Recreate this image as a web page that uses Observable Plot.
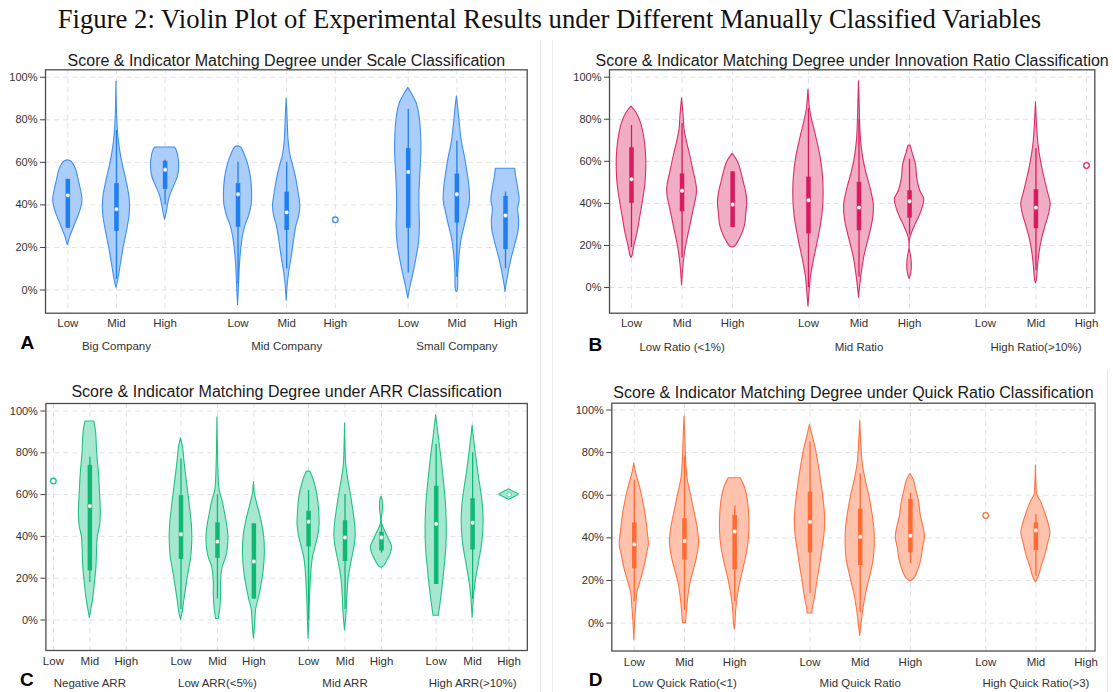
<!DOCTYPE html>
<html><head><meta charset="utf-8">
<script src="https://cdn.jsdelivr.net/npm/d3@7"></script>
<script src="https://cdn.jsdelivr.net/npm/@observablehq/plot@0.6"></script>
<style>
body{margin:0;background:#fff;}
#root{position:relative;width:1113px;height:692px;overflow:hidden;background:#fff;}
#root svg{position:absolute;overflow:visible;}
.title{position:absolute;left:-7px;top:6px;width:1113px;text-align:center;font-family:"Liberation Serif","Times New Roman",serif;font-size:26.7px;line-height:26px;color:#111;white-space:nowrap;}
.sep{position:absolute;background:#e3e3e3;width:1px;}
</style></head><body>
<div id="root">
<div class="title">Figure 2: Violin Plot of Experimental Results under Different Manually Classified Variables</div>
<div class="sep" style="left:540px;top:40px;height:652px"></div>
<div class="sep" style="left:552px;top:40px;height:652px;background:#ececec"></div>
<div class="sep" style="left:1107px;top:370px;height:322px;background:#e6e6e6"></div>
</div>
<script>
// ---------- data (values in %, density half-widths in slot units) ----------
const LEVELS = ["Low", "Mid", "High"];
const Y_TICKS = [0, 20, 40, 60, 80, 100];

const groupsA = ["Big Company", "Mid Company", "Small Company"];
const groupsB = ["Low Ratio (<1%)", "Mid Ratio", "High Ratio(>10%)"];
const groupsC = ["Negative ARR", "Low ARR(<5%)", "Mid ARR", "High ARR(>10%)"];
const groupsD = ["Low Quick Ratio(<1)", "Mid Quick Ratio", "High Quick Ratio(>3)"];

const violinsA = [
  {g:0,l:0,med:44.5,q1:29,q3:52,lo:29,hi:52,d:[[21,0],[25,.05],[28,.1],[32,.17],[36,.24],[40,.29],[43,.3],[47,.27],[52,.22],[56,.18],[59,.12],[60.5,.06],[61,0]]},
  {g:0,l:1,med:38,q1:27.5,q3:50,lo:5,hi:75,d:[[1,0],[5,.04],[12,.09],[20,.15],[28,.22],[35,.27],[40,.28],[45,.26],[52,.2],[60,.12],[68,.06],[75,.03],[85,.01],[98,0]]},
  {g:0,l:2,med:56.5,q1:47.3,q3:60.5,lo:40,hi:61,d:[[33,0],[36,.03],[40,.06],[44,.1],[48,.17],[53,.26],[58,.29],[63,.27],[66,.23],[67,.2]]},
  {g:1,l:0,med:45,q1:29.5,q3:50,lo:3,hi:60,d:[[-7,0],[0,.015],[5,.025],[12,.04],[20,.07],[25,.1],[30,.15],[35,.23],[40,.28],[45,.29],[52,.27],[58,.22],[64,.13],[67,.06],[67.5,0]]},
  {g:1,l:1,med:36.5,q1:28,q3:46,lo:10,hi:60,d:[[-5,0],[2,.02],[8,.05],[15,.1],[23,.15],[30,.2],[35,.26],[40,.28],[45,.25],[52,.2],[58,.14],[63,.08],[70,.04],[80,.02],[90,0]]},
  {g:1,l:2,med:33},
  {g:2,l:0,med:55.5,q1:29,q3:66.5,lo:8,hi:85,d:[[-4,0],[2,.05],[8,.11],[15,.17],[22,.22],[30,.24],[38,.23],[45,.23],[55,.25],[65,.27],[75,.26],[82,.23],[88,.17],[92,.08],[95,0]]},
  {g:2,l:1,med:45,q1:31.5,q3:54.5,lo:6,hi:70,d:[[-1,0],[0,.02],[8,.03],[15,.05],[23,.09],[30,.16],[36,.22],[42,.27],[48,.26],[55,.22],[62,.17],[70,.1],[78,.06],[85,.03],[91,0]]},
  {g:2,l:2,med:35,q1:19,q3:44,lo:10,hi:46,d:[[-1,0],[1,.01],[5,.04],[10,.08],[16,.14],[22,.21],[28,.27],[33,.28],[38,.26],[42,.29],[48,.26],[53,.22],[57,.2]]}
];

const violinsB = [
  {g:0,l:0,med:51.5,q1:40,q3:66.5,lo:19,hi:77,d:[[14,0],[15,.02],[20,.06],[26,.12],[33,.17],[40,.22],[48,.27],[55,.29],[62,.29],[70,.26],[78,.19],[83,.1],[86,0]]},
  {g:0,l:1,med:46,q1:36,q3:54,lo:14,hi:78,d:[[1,0],[8,.02],[15,.05],[22,.1],[30,.17],[38,.24],[44,.29],[48,.29],[55,.23],[63,.16],[70,.09],[75,.05],[82,.03],[90,0]]},
  {g:0,l:2,med:39.5,q1:28.5,q3:55,lo:28.5,hi:55,d:[[19,0],[19.5,.05],[22,.12],[26,.2],[30,.25],[35,.27],[40,.29],[45,.27],[50,.22],[55,.17],[60,.1],[63.5,0]]},
  {g:1,l:0,med:41.5,q1:25.5,q3:52.5,lo:0,hi:85,d:[[-9,0],[0,.03],[5,.05],[12,.1],[20,.17],[30,.25],[38,.29],[45,.3],[52,.29],[62,.24],[72,.15],[80,.07],[85,.03],[94,0]]},
  {g:1,l:1,med:38,q1:27,q3:50,lo:5,hi:80,d:[[-5,0],[0,.02],[6,.05],[14,.1],[22,.18],[30,.26],[35,.29],[40,.29],[48,.22],[55,.14],[62,.08],[70,.04],[80,.02],[90,.01],[98,0]]},
  {g:1,l:2,med:41,q1:33,q3:46,lo:25,hi:61,d:[[4,0],[7,.035],[11,.045],[15,.03],[18,.004],[22,.005],[24,.02],[26,.05],[30,.12],[34,.2],[38,.26],[42,.29],[46,.21],[52,.15],[58,.13],[64,.06],[67.5,.02]]},
  {g:2,l:1,med:38,q1:28,q3:46.5,lo:8,hi:66,d:[[2,0],[4,.02],[10,.04],[18,.08],[24,.13],[30,.2],[35,.26],[40,.29],[45,.24],[52,.17],[60,.1],[68,.05],[78,.02],[88,0]]},
  {g:2,l:2,med:58}
];

const violinsC = [
  {g:0,l:0,med:66.5},
  {g:0,l:1,med:54.5,q1:23.5,q3:74,lo:18,hi:78,d:[[1,0],[5,.04],[10,.09],[18,.14],[25,.18],[35,.2],[40,.22],[45,.28],[52,.3],[60,.28],[70,.25],[80,.2],[90,.17],[95,.12]]},
  {g:1,l:0,med:41,q1:29,q3:59.5,lo:5,hi:77,d:[[0,0],[4,.05],[8,.08],[15,.14],[22,.2],[30,.28],[38,.31],[45,.3],[55,.24],[65,.17],[75,.1],[82,.06],[87,0]]},
  {g:1,l:1,med:37.5,q1:29.5,q3:46.5,lo:10,hi:60,d:[[0.5,.04],[2,.05],[6,.08],[12,.1],[18,.1],[25,.14],[30,.24],[35,.29],[40,.3],[45,.27],[50,.22],[57,.14],[62,.06],[70,.03],[85,.01],[97,0]]},
  {g:1,l:2,med:28,q1:10,q3:46,lo:10,hi:46,d:[[-9,0],[-5,.02],[0,.04],[5,.06],[10,.13],[16,.2],[24,.27],[32,.3],[40,.28],[48,.2],[55,.1],[60,.03],[66,0]]},
  {g:2,l:0,med:47,q1:35,q3:52,lo:0,hi:62,d:[[-9,0],[0,.02],[8,.03],[15,.05],[24,.08],[30,.12],[35,.19],[40,.26],[45,.3],[52,.29],[60,.24],[67,.14],[71,.05]]},
  {g:2,l:1,med:39.5,q1:28,q3:47.5,lo:5,hi:60,d:[[-5,0],[3,.04],[10,.06],[20,.1],[28,.18],[35,.26],[40,.29],[45,.28],[52,.23],[60,.16],[68,.08],[75,.03],[85,.01],[94,0]]},
  {g:2,l:2,med:39.5,q1:33,q3:42,lo:32,hi:46,d:[[25,0],[25.5,.06],[28,.15],[32,.26],[35,.29],[38,.22],[41,.14],[44,.06],[46,.015],[49,.01],[52,.035],[55,.04],[57.5,.03],[59,0]]},
  {g:3,l:0,med:46,q1:17,q3:64,lo:17,hi:84,d:[[2,.07],[3,.08],[8,.12],[15,.17],[25,.23],[35,.28],[45,.29],[55,.27],[65,.22],[75,.16],[85,.09],[92,.04],[98,0]]},
  {g:3,l:1,med:46.5,q1:33.5,q3:58,lo:10,hi:80,d:[[1,0],[5,.015],[12,.04],[20,.1],[28,.18],[35,.25],[42,.29],[48,.3],[55,.28],[62,.23],[70,.16],[78,.1],[85,.05],[93,0]]},
  {g:3,l:2,med:60,q1:59.5,q3:60.5,lo:59.5,hi:60.5,d:[[57.5,0],[59,.17],[60,.27],[61,.17],[62.5,0]]}
];

const violinsD = [
  {g:0,l:0,med:37,q1:25.5,q3:47,lo:10,hi:67,d:[[-8,0],[2,.02],[8,.04],[14,.06],[20,.13],[26,.2],[32,.25],[37,.29],[42,.27],[50,.23],[58,.17],[65,.1],[70,.04],[75,0]]},
  {g:0,l:1,med:38.5,q1:29.5,q3:49,lo:6,hi:78,d:[[0,.03],[6,.05],[13,.08],[20,.13],[26,.2],[32,.26],[38,.29],[45,.26],[52,.2],[60,.13],[68,.06],[78,.03],[88,.015],[97,0]]},
  {g:0,l:2,med:43,q1:25,q3:50.5,lo:10,hi:55,d:[[-3,0],[0,.015],[6,.03],[12,.06],[20,.12],[28,.2],[35,.26],[42,.29],[50,.29],[58,.26],[64,.2],[68,.12]]},
  {g:1,l:0,med:47.5,q1:33,q3:61.5,lo:14,hi:85,d:[[4.5,.05],[6,.05],[12,.1],[20,.15],[27,.2],[35,.25],[42,.29],[50,.3],[60,.26],[70,.2],[80,.13],[88,.05],[93,0]]},
  {g:1,l:1,med:40.5,q1:27,q3:53.5,lo:5,hi:70,d:[[-6,0],[0,.03],[6,.06],[14,.12],[22,.2],[30,.27],[38,.29],[45,.28],[52,.24],[60,.18],[68,.1],[75,.05],[85,.02],[95,0]]},
  {g:1,l:2,med:41,q1:33,q3:58,lo:28,hi:61,d:[[19.5,0],[21,.08],[25,.16],[30,.22],[35,.25],[40,.29],[44,.27],[50,.21],[57,.17],[62,.12],[67,.07],[70,0]]},
  {g:2,l:0,med:50.5},
  {g:2,l:1,med:43.5,q1:34,q3:47,lo:22,hi:51,d:[[19,0],[22,.06],[27,.12],[32,.19],[38,.25],[42,.29],[46,.26],[52,.18],[57,.1],[60,.03],[66,.01],[74,0]]}
];

// ---------- rendering ----------
const FONT = '"Liberation Sans", Arial, Helvetica, sans-serif';
const pos = (g, l) => g * 3.5 + l;

function drawPanel(cfg) {
  const n = cfg.groups.length;
  const tickPos = d3.range(n).flatMap(g => [0, 1, 2].map(l => pos(g, l)));
  const groupPos = d3.range(n).map(g => pos(g, 1));
  const shaped = cfg.violins.filter(v => v.d);
  const single = cfg.violins.filter(v => !v.d).map(v => ({...v, c: pos(v.g, v.l)}));
  const rows = shaped.flatMap((v, i) => v.d.slice().sort((a, b) => a[0] - b[0])
    .map(([y, w]) => ({id: i, c: pos(v.g, v.l), y, w})));
  const stats = shaped.map(v => ({...v, c: pos(v.g, v.l)}));
  const svg = Plot.plot({
    width: cfg.width, height: cfg.height,
    marginLeft: cfg.m[0], marginRight: cfg.m[1], marginTop: cfg.m[2], marginBottom: cfg.m[3],
    x: {domain: cfg.xDomain, axis: null},
    y: {domain: cfg.yDomain, axis: null},
    style: {fontFamily: FONT, fontSize: "11px", color: "#333", background: "transparent", overflow: "visible"},
    marks: [
      Plot.gridY({ticks: Y_TICKS, stroke: "#e2e2e2", strokeOpacity: 1, strokeDasharray: "5,4"}),
      Plot.gridX({ticks: tickPos, stroke: "#e2e2e2", strokeOpacity: 1, strokeDasharray: "5,4"}),
      Plot.areaX(rows, {y: "y", x1: r => r.c - r.w, x2: r => r.c + r.w, z: "id",
        fill: cfg.fill, stroke: cfg.stroke, strokeWidth: 1.1, curve: "catmull-rom"}),
      Plot.ruleX(stats, {x: "c", y1: "lo", y2: "hi", stroke: cfg.box, strokeWidth: 1.3}),
      Plot.ruleX(stats, {x: "c", y1: "q1", y2: "q3", stroke: cfg.box, strokeWidth: 4.5}),
      Plot.dot(stats, {x: "c", y: "med", r: 2.2, fill: "white", stroke: cfg.box, strokeWidth: 0.5}),
      Plot.dot(single, {x: "c", y: "med", r: 2.8, fill: "white", stroke: cfg.stroke, strokeWidth: 1.3}),
      Plot.frame({stroke: "#4d4d4d", strokeWidth: 1.3}),
      Plot.axisY({ticks: Y_TICKS, tickFormat: d => d + "%", tickSize: 5, tickPadding: 3, label: null, stroke: "#444"}),
      Plot.axisX({ticks: tickPos, tickFormat: p => LEVELS[Math.round(p % 3.5)], tickSize: 0, tickPadding: cfg.tickPad, label: null, fontSize: 11.5}),
      Plot.axisX({ticks: groupPos, tickFormat: p => cfg.groups[Math.round((p - 1) / 3.5)], tickSize: 0, tickPadding: cfg.groupPad, label: null, fontSize: 11.5}),
      Plot.text([cfg.subtitle], {text: d => d, frameAnchor: "top", dy: cfg.subDy, lineAnchor: "bottom", fontSize: 16, fill: "#1a1a1a"}),
      Plot.text([cfg.letter], {text: d => d, frameAnchor: "bottom-left", textAnchor: "start", dx: cfg.letterDx, dy: cfg.letterDy,
        lineAnchor: "bottom", fontSize: 19, fontWeight: "bold", fill: "#000"})
    ]
  });
  svg.style.left = cfg.left + "px";
  svg.style.top = cfg.top + "px";
  document.getElementById("root").appendChild(svg);
}

drawPanel({violins: violinsA, groups: groupsA, left: 0, top: 40, width: 540, height: 325, m: [45, 13.3, 29.3, 52.3],
  xDomain: [-0.459, 9.446], yDomain: [-10.9, 103.5], tickPad: 6, groupPad: 28.5, subDy: -4.3, letterDx: -25, letterDy: 35.6,
  subtitle: "Score & Indicator Matching Degree under Scale Classification", letter: "A",
  fill: "#aacdfa", stroke: "#3f8ff2", box: "#1f7ff0"});

drawPanel({violins: violinsB, groups: groupsB, left: 540, top: 40, width: 573, height: 325, m: [69, 18.7, 29.3, 52.3],
  xDomain: [-0.435, 9.164], yDomain: [-12.2, 103.5], tickPad: 6, groupPad: 29.2, subDy: -4.3, letterDx: -21, letterDy: 37.3,
  subtitle: "Score & Indicator Matching Degree under Innovation Ratio Classification", letter: "B",
  fill: "#f1adc4", stroke: "#d92e66", box: "#d81b5f"});

drawPanel({violins: violinsC, groups: groupsC, left: 0, top: 370, width: 540, height: 322, m: [45.4, 13.2, 33, 42],
  xDomain: [-0.206, 13.0], yDomain: [-14.6, 103.6], tickPad: 6.8, groupPad: 28, subDy: -7, letterDx: -26, letterDy: 35.5,
  subtitle: "Score & Indicator Matching Degree under ARR Classification", letter: "C",
  fill: "#a6e8cf", stroke: "#20c283", box: "#10b874"});

drawPanel({violins: violinsD, groups: groupsD, left: 540, top: 370, width: 573, height: 322, m: [71.3, 18.4, 32.7, 41.5],
  xDomain: [-0.448, 9.179], yDomain: [-13.1, 103.2], tickPad: 6.7, groupPad: 27.8, subDy: -5.7, letterDx: -23, letterDy: 35,
  subtitle: "Score & Indicator Matching Degree under Quick Ratio Classification", letter: "D",
  fill: "#ffc3ad", stroke: "#ff7443", box: "#ff6a35"});
</script>
</body></html>
